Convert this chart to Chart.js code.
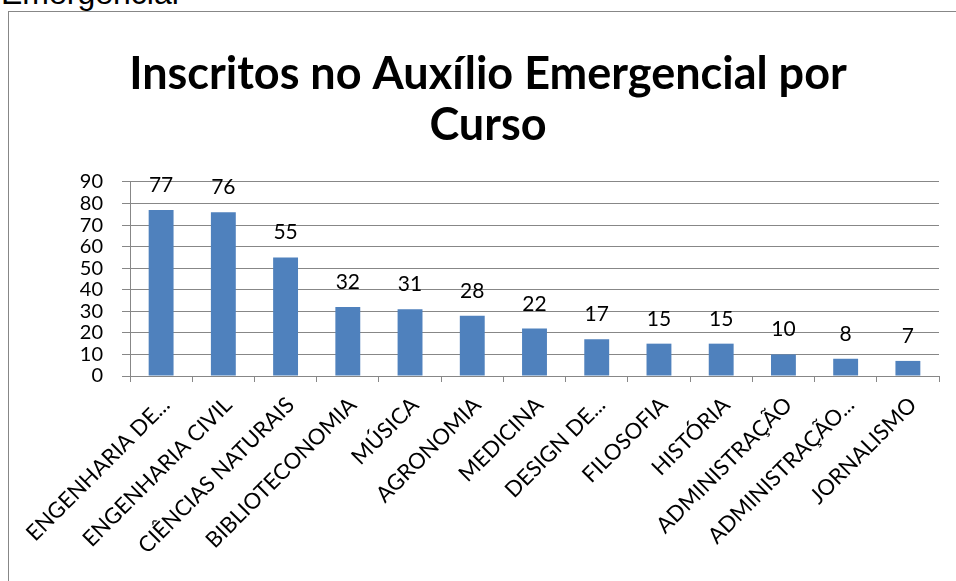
<!DOCTYPE html>
<html>
<head>
<meta charset="utf-8">
<script src="https://cdn.jsdelivr.net/npm/chart.js@4/dist/chart.umd.min.js"></script>
<style>
    body { margin: 0; background: #fff; overflow: hidden; }
    .stray { position: absolute; left: 1px; top: -23px; font: 32px "Liberation Sans", Arial, sans-serif; line-height: 32px; color: #000; }
    .frame { position: absolute; left: 8px; top: 11px; width: 1000px; height: 700px; border: 1px solid #878787; }
    canvas { position: absolute; left: 0; top: 0; }
</style>
</head>
<body>
<div class="stray">Emergencial</div>
<div class="frame"></div>
<canvas id="chart" width="956" height="581"></canvas>
<script>
// data
const cursos = [
    "ENGENHARIA DE...", "ENGENHARIA CIVIL", "CIÊNCIAS NATURAIS", "BIBLIOTECONOMIA",
    "MÚSICA", "AGRONOMIA", "MEDICINA", "DESIGN DE...", "FILOSOFIA", "HISTÓRIA",
    "ADMINISTRAÇÃO", "ADMINISTRAÇÃO...", "JORNALISMO"
];
const inscritos = [77, 76, 55, 32, 31, 28, 22, 17, 15, 15, 10, 8, 7];
const yTicks = [0, 10, 20, 30, 40, 50, 60, 70, 80, 90];

const fontFamily = "Lato, 'Open Sans', sans-serif";

// value labels above each bar
const barLabels = {
    id: "barLabels",
    afterDatasetsDraw(chart) {
        const ctx = chart.ctx;
        const meta = chart.getDatasetMeta(0);
        ctx.save();
        ctx.font = "21px " + fontFamily;
        ctx.fillStyle = "#000";
        ctx.textAlign = "center";
        ctx.textBaseline = "alphabetic";
        meta.data.forEach((bar, i) => {
            ctx.fillText(String(inscritos[i]), bar.x, bar.y - 18);
        });
        ctx.restore();
    },
};

new Chart(document.getElementById("chart"), {
    type: "bar",
    data: {
        labels: cursos,
        datasets: [
            {
                data: inscritos,
                backgroundColor: "#4F81BD",
                borderWidth: 0,
                barPercentage: 0.4,
                categoryPercentage: 1,
            },
        ],
    },
    options: {
        responsive: false,
        animation: false,
        // left padding only moves the title centre; axis width below makes up the rest
        layout: { padding: { top: 0, right: 17, bottom: 0, left: 37 } },
        plugins: {
            legend: { display: false },
            tooltip: { enabled: false },
            title: {
                display: true,
                text: ["Inscritos no Auxílio Emergencial por", "Curso"],
                color: "#000",
                font: { family: fontFamily, size: 45, weight: "bold", lineHeight: 1.133 },
                padding: { top: 49, bottom: 31 },
            },
        },
        scales: {
            x: {
                afterFit: (s) => { s.height = 205; },
                grid: {
                    drawOnChartArea: false,
                    drawTicks: true,
                    tickLength: 6,
                    color: "#878787",
                    offset: true,
                },
                border: { color: "#878787" },
                ticks: {
                    autoSkip: false,
                    minRotation: 45,
                    maxRotation: 45,
                    color: "#000",
                    padding: 10,
                    labelOffset: 5,
                    font: { family: fontFamily, size: 22 },
                },
            },
            y: {
                min: 0,
                max: 90,
                afterFit: (s) => { s.width = 93; },
                afterBuildTicks: (s) => { s.ticks = yTicks.map((v) => ({ value: v })); },
                grid: { color: "#878787", tickLength: 8 },
                border: { color: "#878787" },
                ticks: {
                    autoSkip: false,
                    color: "#000",
                    padding: 19,
                    font: { family: fontFamily, size: 20 },
                },
            },
        },
    },
    plugins: [barLabels],
});
</script>
</body>
</html>
